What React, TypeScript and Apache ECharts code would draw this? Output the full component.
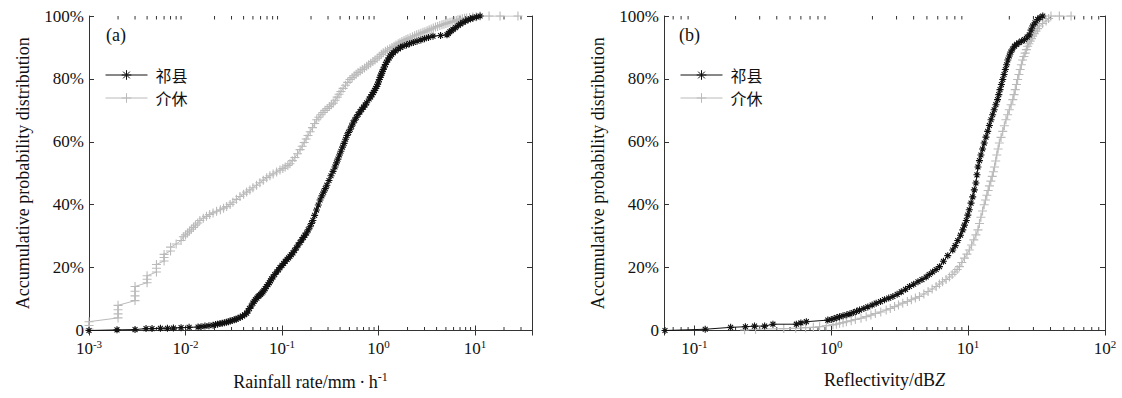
import React, { useEffect, useRef } from 'react';
import * as echarts from 'echarts';

// ---------------- data ----------------
const SERIES_NAMES = ['祁县', '介休'];
const Y_TICKS = [0, 20, 40, 60, 80, 100];

// (a) rainfall rate (mm/h) vs accumulative probability (%)
const rainQixian: [number, number][] = [
  [0.001, 0], [0.00195, 0.2], [0.003, 0.3], [0.0039, 0.6], [0.0045, 0.6], [0.0055, 0.7],
  [0.0065, 0.7], [0.0075, 0.8], [0.009, 0.9], [0.0109, 1.0], [0.0135, 1.1], [0.0145, 1.2],
  [0.0159, 1.4], [0.0175, 1.5], [0.0193, 1.7], [0.0205, 1.9], [0.0215, 2.0], [0.0228, 2.2],
  [0.024, 2.3], [0.0253, 2.5], [0.0265, 2.6], [0.0278, 2.8], [0.029, 3.0], [0.0305, 3.2],
  [0.032, 3.4], [0.0335, 3.6], [0.035, 3.9], [0.037, 4.2], [0.039, 4.6], [0.041, 5.0],
  [0.043, 5.5], [0.0445, 6.2], [0.046, 7], [0.048, 7.8], [0.05, 8.7], [0.0515, 9.3],
  [0.053, 9.8], [0.055, 10.3], [0.0565, 10.8], [0.058, 11.1], [0.06, 11.5], [0.0618, 11.9],
  [0.0635, 12.3], [0.065, 12.8], [0.067, 13.3], [0.069, 14], [0.0716, 14.6], [0.074, 15.2],
  [0.076, 15.8], [0.078, 16.4], [0.0807, 17.0], [0.084, 17.8], [0.088, 18.6], [0.092, 19.3],
  [0.0953, 20], [0.1, 20.7], [0.104, 21.3], [0.108, 22], [0.113, 22.6], [0.117, 23.1],
  [0.121, 23.6], [0.125, 24.1], [0.13, 24.7], [0.135, 25.5], [0.141, 26.3], [0.147, 27.2],
  [0.154, 28], [0.16, 28.8], [0.167, 29.6], [0.173, 30.3], [0.18, 31], [0.187, 32],
  [0.195, 33], [0.202, 34], [0.209, 35], [0.218, 36.6], [0.228, 38.3], [0.238, 39.9],
  [0.248, 41.5], [0.259, 42.8], [0.27, 44], [0.281, 45.1], [0.292, 46.2], [0.307, 47.7],
  [0.322, 49.2], [0.338, 50.6], [0.354, 52], [0.367, 53.3], [0.38, 54.5], [0.394, 55.8],
  [0.408, 57], [0.424, 58.3], [0.44, 59.5], [0.456, 60.8], [0.472, 62], [0.49, 63],
  [0.51, 64], [0.527, 65], [0.545, 66], [0.567, 66.9], [0.59, 67.8], [0.615, 68.7],
  [0.643, 69.5], [0.67, 70.3], [0.7, 71], [0.727, 71.7], [0.755, 72.4], [0.8, 73.6],
  [0.83, 74.3], [0.857, 75], [0.885, 75.7], [0.91, 76.3], [0.935, 77], [0.958, 77.6],
  [0.98, 78.3], [1.0, 79], [1.02, 79.8], [1.04, 80.5], [1.06, 81.2], [1.08, 81.8],
  [1.1, 82.4], [1.12, 83], [1.15, 83.8], [1.18, 84.6], [1.21, 85.3], [1.25, 86],
  [1.29, 86.7], [1.33, 87.3], [1.37, 87.8], [1.42, 88.3], [1.5, 88.9], [1.6, 89.5],
  [1.69, 90], [1.79, 90.4], [1.95, 90.8], [2.1, 91.2], [2.3, 91.6], [2.51, 92],
  [2.75, 92.4], [3.0, 92.8], [3.3, 93.2], [3.67, 93.6], [4.4, 93.8], [5.13, 94],
  [5.3, 94.5], [5.5, 95], [5.7, 95.3], [5.92, 95.7], [6.3, 96.3], [6.7, 97],
  [7.1, 97.5], [7.51, 98], [8.0, 98.4], [8.5, 98.8], [9.0, 99.1], [9.53, 99.4],
  [10.4, 99.7], [11.3, 100],
];
const rainJiexiu: [number, number][] = [
  [0.001, 0.5], [0.001, 1.6], [0.001, 2.8], [0.002, 4.0], [0.002, 5.3], [0.002, 6.6],
  [0.002, 8.0], [0.003, 9.5], [0.003, 11], [0.003, 12.5], [0.003, 14], [0.004, 15.2],
  [0.004, 16.3], [0.004, 17.4], [0.005, 18.6], [0.005, 19.8], [0.005, 21], [0.006, 22.1],
  [0.006, 23.2], [0.006, 24.2], [0.007, 25.3], [0.007, 26.5], [0.008, 27.5], [0.009, 28.6],
  [0.0095, 29.8], [0.01, 30.4], [0.0105, 31], [0.011, 31.6], [0.0115, 32.2], [0.0121, 32.8],
  [0.0127, 33.5], [0.0134, 34.2], [0.0141, 35], [0.0153, 35.7], [0.0165, 36.3], [0.0178, 36.9],
  [0.0193, 37.4], [0.021, 37.9], [0.023, 38.4], [0.0248, 38.9], [0.0267, 39.4], [0.029, 40.1],
  [0.031, 40.8], [0.0337, 41.7], [0.0367, 42.6], [0.04, 43.3], [0.043, 44], [0.0465, 44.7],
  [0.05, 45.4], [0.0545, 46.2], [0.059, 47], [0.064, 47.8], [0.0694, 48.6], [0.075, 49.2],
  [0.081, 49.8], [0.088, 50.4], [0.0953, 51], [0.102, 51.5], [0.108, 52], [0.115, 52.5],
  [0.121, 53], [0.128, 54], [0.136, 55], [0.145, 56.2], [0.154, 57.5], [0.162, 58.6],
  [0.17, 59.8], [0.178, 60.9], [0.186, 62], [0.196, 63.2], [0.207, 64.5], [0.218, 65.8],
  [0.229, 67], [0.241, 67.8], [0.253, 68.6], [0.266, 69.3], [0.279, 70], [0.294, 70.6],
  [0.31, 71.2], [0.325, 71.8], [0.34, 72.3], [0.356, 73.2], [0.373, 74.2], [0.39, 75.1],
  [0.408, 76], [0.43, 77], [0.455, 78], [0.48, 78.9], [0.507, 79.8], [0.533, 80.4],
  [0.56, 81], [0.587, 81.5], [0.614, 82], [0.647, 82.5], [0.68, 83], [0.717, 83.5],
  [0.755, 84], [0.79, 84.5], [0.83, 85], [0.875, 85.5], [0.92, 86], [0.97, 86.6],
  [1.02, 87.2], [1.07, 87.8], [1.12, 88.3], [1.18, 88.8], [1.24, 89.2], [1.31, 89.6],
  [1.38, 90], [1.45, 90.4], [1.52, 90.8], [1.6, 91.2], [1.67, 91.5], [1.75, 91.9],
  [1.84, 92.2], [1.93, 92.5], [2.02, 92.8], [2.13, 93.1], [2.25, 93.4], [2.37, 93.7],
  [2.49, 94], [2.62, 94.3], [2.75, 94.5], [2.89, 94.8], [3.03, 95], [3.19, 95.3],
  [3.35, 95.6], [3.52, 95.9], [3.7, 96.2], [3.9, 96.5], [4.1, 96.7], [4.32, 97],
  [4.55, 97.2], [4.77, 97.4], [5.0, 97.6], [5.25, 97.8], [5.51, 98], [5.8, 98.2],
  [6.1, 98.4], [6.4, 98.6], [6.67, 98.8], [7.0, 99], [7.4, 99.1], [7.8, 99.3],
  [8.2, 99.4], [8.8, 99.5], [9.5, 99.7], [10.3, 99.8], [11.3, 100], [14, 100],
  [18.2, 100], [27.9, 100],
];

// (b) reflectivity (dBZ) vs accumulative probability (%)
const reflQixian: [number, number][] = [
  [0.061, 0], [0.12, 0.4], [0.184, 1.0], [0.236, 1.2], [0.275, 1.4], [0.326, 1.4],
  [0.375, 2.0], [0.556, 2.0], [0.6, 2.4], [0.658, 2.8], [0.944, 3.3], [1.0, 3.5],
  [1.05, 3.8], [1.1, 4.1], [1.15, 4.4], [1.22, 4.7], [1.3, 5.0], [1.37, 5.3],
  [1.45, 5.7], [1.53, 6.1], [1.61, 6.5], [1.73, 7.0], [1.85, 7.5], [1.99, 8.1],
  [2.13, 8.7], [2.29, 9.2], [2.45, 9.8], [2.63, 10.3], [2.82, 10.8], [3.03, 11.5],
  [3.25, 12.3], [3.49, 13.1], [3.73, 14], [4.0, 14.7], [4.3, 15.5], [4.6, 16.2],
  [4.94, 17], [5.2, 17.8], [5.5, 18.6], [5.84, 19.4], [6.18, 20.3], [6.6, 22],
  [7.1, 23.8], [7.72, 25.6], [8.05, 27], [8.4, 28.6], [8.8, 30.3], [9.14, 32],
  [9.4, 33.5], [9.7, 35], [9.95, 36.7], [10.2, 38.4], [10.5, 40.5], [10.8, 42.5],
  [11.1, 44.7], [11.4, 46.9], [11.6, 49.5], [11.8, 52], [12.1, 54], [12.4, 55.8],
  [12.75, 57.7], [13.1, 59.6], [13.5, 61.5], [13.9, 63.3], [14.3, 65.2], [14.7, 67],
  [15.1, 68.6], [15.5, 70.2], [15.95, 71.8], [16.4, 73.4], [16.75, 75], [17.1, 76.6],
  [17.5, 78.2], [17.9, 79.8], [18.3, 81.4], [18.7, 83], [19.1, 84.5], [19.5, 86],
  [20.0, 87.3], [20.5, 88.5], [21.1, 89.5], [21.8, 90.4], [22.6, 91], [23.5, 91.5],
  [24.6, 92], [25.8, 92.5], [27.0, 93.3], [28.0, 94], [28.8, 95.5], [29.6, 96.8],
  [30.8, 97.8], [32.2, 98.9], [33.5, 99.5], [35.1, 100],
];
const reflJiexiu: [number, number][] = [
  [0.233, 0.2], [0.28, 0.4], [0.45, 0.6], [0.55, 0.7], [0.65, 0.9], [0.74, 1.0],
  [0.822, 1.2], [0.92, 1.5], [1.03, 1.8], [1.09, 2.0], [1.15, 2.3], [1.22, 2.5],
  [1.29, 2.8], [1.4, 3.1], [1.5, 3.5], [1.65, 3.9], [1.8, 4.4], [1.95, 4.9],
  [2.1, 5.4], [2.3, 5.9], [2.52, 6.5], [2.7, 7.0], [2.9, 7.6], [3.1, 8.1],
  [3.33, 8.7], [3.6, 9.2], [3.85, 9.8], [4.12, 10.3], [4.41, 10.8], [4.75, 11.6],
  [5.1, 12.4], [5.46, 13.2], [5.84, 14], [6.17, 14.8], [6.5, 15.5], [6.9, 16.2],
  [7.3, 17], [7.65, 17.8], [8.0, 18.6], [8.32, 19.4], [8.64, 20.3], [9.0, 21.6],
  [9.4, 23], [9.8, 24.3], [10.2, 25.6], [10.6, 27.2], [11.0, 28.8], [11.4, 30.4],
  [11.8, 32], [12.1, 34], [12.4, 36], [12.75, 38], [13.1, 40], [13.4, 41.5],
  [13.7, 43], [14.0, 44.5], [14.3, 46], [14.65, 47.5], [15.0, 49], [15.3, 50.5],
  [15.6, 52], [15.9, 53.9], [16.2, 55.8], [16.55, 57.7], [16.9, 59.6], [17.4, 61.4],
  [17.9, 63.3], [18.4, 65.1], [18.9, 67], [19.45, 68.6], [20.0, 70.2], [20.6, 71.8],
  [21.2, 73.4], [21.65, 75], [22.1, 76.6], [22.55, 78.2], [23.0, 79.8], [23.5, 81.4],
  [24.0, 83], [24.5, 84.5], [25.0, 86], [25.55, 87.1], [26.1, 88.2], [26.65, 89.3],
  [27.2, 90.4], [27.8, 91.2], [28.4, 92], [29.0, 92.8], [29.6, 93.6], [30.4, 94.4],
  [31.3, 95.2], [32.2, 96], [33.1, 96.8], [35.0, 97.6], [37.1, 98.4], [38.7, 99.2],
  [40.3, 100], [46.4, 100], [56.5, 100],
];

const X_RANGE_A: [number, number] = [0.001, 39];
const X_RANGE_B: [number, number] = [0.06, 100];
const DECADES_A = [-3, -2, -1, 0, 1];
const DECADES_B = [-2, -1, 0, 1];

// ---------------- styling ----------------
const SERIF = '"Liberation Serif", "Times New Roman", serif';
const CJK = '"Noto Sans CJK SC", sans-serif';
const AXIS_COLOR = '#333';
const TEXT_COLOR = '#111';
const BLACK = '#111';
const GRAY = '#bababa';
const STAR = 'path://M0,4L8,4M4,0L4,8M1.2,1.2L6.8,6.8M6.8,1.2L1.2,6.8';
const PLUS = 'path://M0,5L10,5M5,0L5,10';

function minorTicks(decades: number[], range: [number, number]): number[][] {
  const out: number[][] = [];
  decades.forEach((d) => {
    for (let k = 2; k <= 9; k++) {
      const v = k * Math.pow(10, d);
      if (v > range[0] && v < range[1]) out.push([v, 0]);
    }
  });
  return out;
}

const logLabel = (v: number) => {
  const n = Math.round(Math.log10(v));
  if (Math.abs(v - Math.pow(10, n)) / v > 1e-6) return '';
  return '{b|10}{s|' + n + '}';
};

const tickRich = {
  b: { fontSize: 17, fontFamily: SERIF, color: TEXT_COLOR, lineHeight: 20 },
  s: { fontSize: 11, fontFamily: SERIF, color: TEXT_COLOR, verticalAlign: 'top' },
};

function xAxes(gridIndex: number, range: [number, number], name: string, nameRich: any) {
  const common = {
    gridIndex,
    type: 'log',
    logBase: 10,
    min: range[0],
    max: range[1],
    splitLine: { show: false },
    axisLine: { show: true, lineStyle: { color: AXIS_COLOR, width: 1 } },
    axisTick: { show: true, inside: true, length: 5, lineStyle: { color: AXIS_COLOR } },
  };
  return [
    {
      ...common,
      position: 'bottom',
      axisLabel: { formatter: logLabel, rich: tickRich, margin: 8 },
      name,
      nameLocation: 'middle',
      nameGap: 40,
      nameTextStyle: { rich: nameRich },
    },
    { ...common, position: 'top', axisLabel: { show: false } },
  ];
}

function yAxes(gridIndex: number) {
  const common = {
    gridIndex,
    type: 'value',
    min: 0,
    max: 100,
    interval: 20,
    splitLine: { show: false },
    axisLine: { show: true, lineStyle: { color: AXIS_COLOR, width: 1 } },
    axisTick: { show: true, inside: true, length: 5, lineStyle: { color: AXIS_COLOR } },
  };
  return [
    {
      ...common,
      position: 'left',
      axisLabel: {
        formatter: (v: number) => (Y_TICKS.includes(v) ? (v === 0 ? '0' : v + '%') : ''),
        fontSize: 17,
        fontFamily: SERIF,
        color: TEXT_COLOR,
        margin: 5,
      },
      name: 'Accumulative probability distribution',
      nameLocation: 'middle',
      nameGap: 57,
      nameTextStyle: { fontSize: 18, fontFamily: SERIF, color: TEXT_COLOR },
    },
    { ...common, position: 'right', axisLabel: { show: false } },
  ];
}

function curve(name: string, data: [number, number][], axisIdx: number, black: boolean) {
  const c = black ? BLACK : GRAY;
  return {
    type: 'line',
    name,
    xAxisIndex: axisIdx,
    yAxisIndex: axisIdx,
    data,
    symbol: black ? STAR : PLUS,
    symbolSize: black ? 7 : 9,
    showAllSymbol: true,
    lineStyle: { color: c, width: 1 },
    itemStyle: { color: 'rgba(0,0,0,0)', borderColor: c, borderWidth: 1.1 },
    z: black ? 4 : 3,
    emphasis: { disabled: true },
    silent: true,
  };
}

function tickSeries(name: string, data: number[][], axisIdx: number) {
  return {
    type: 'custom',
    name,
    xAxisIndex: axisIdx,
    yAxisIndex: axisIdx,
    data,
    silent: true,
    clip: false,
    z: 1,
    renderItem: (_params: any, api: any) => {
      const v = api.value(0);
      const b = api.coord([v, 0]);
      const t = api.coord([v, 100]);
      const st = { stroke: AXIS_COLOR, lineWidth: 1 };
      return {
        type: 'group',
        children: [
          { type: 'line', shape: { x1: b[0], y1: b[1], x2: b[0], y2: b[1] - 3.5 }, style: st },
          { type: 'line', shape: { x1: t[0], y1: t[1], x2: t[0], y2: t[1] + 3.5 }, style: st },
        ],
      };
    },
  };
}

function legend(left: number) {
  return {
    left,
    top: 67,
    orient: 'vertical',
    data: SERIES_NAMES,
    itemWidth: 42,
    itemHeight: 12,
    itemGap: 7,
    padding: 0,
    selectedMode: false,
    lineStyle: { width: 1 },
    itemStyle: { borderWidth: 1 },
    textStyle: { fontSize: 16, fontFamily: CJK, color: TEXT_COLOR, padding: [0, 0, 0, 3], lineHeight: 16 },
  };
}

export default function App() {
  const ref = useRef<HTMLDivElement>(null);
  useEffect(() => {
    if (!ref.current) return;
    const chart = echarts.init(ref.current, undefined, { renderer: 'svg' });
    const nameRichA = {
      n: { fontSize: 18, fontFamily: SERIF, color: TEXT_COLOR, lineHeight: 22 },
      s: { fontSize: 12, fontFamily: SERIF, color: TEXT_COLOR, verticalAlign: 'top' },
    };
    const nameRichB = {
      n: { fontSize: 18, fontFamily: SERIF, color: TEXT_COLOR },
      i: { fontSize: 18, fontFamily: SERIF, color: TEXT_COLOR, fontStyle: 'italic' },
    };
    const option: any = {
      animation: false,
      backgroundColor: '#fff',
      grid: [
        { left: 89, top: 16, width: 443, height: 314.5 },
        { left: 664, top: 16, width: 441, height: 314.5 },
      ],
      xAxis: [
        ...xAxes(0, X_RANGE_A, '{n|Rainfall rate/mm\u2009\u00b7\u2009h}{s|-1}', nameRichA),
        ...xAxes(1, X_RANGE_B, '{n|Reflectivity/dB}{i|Z}', nameRichB),
      ],
      yAxis: [...yAxes(0), ...yAxes(1)],
      legend: [legend(105), legend(680)],
      graphic: [
        { type: 'text', left: 106, top: 26, style: { text: '(a)', font: '18px ' + SERIF, fill: TEXT_COLOR } },
        { type: 'text', left: 679, top: 26, style: { text: '(b)', font: '18px ' + SERIF, fill: TEXT_COLOR } },
      ],
      series: [
        tickSeries('minorA', minorTicks(DECADES_A, X_RANGE_A), 0),
        tickSeries('minorB', minorTicks(DECADES_B, X_RANGE_B), 2),
        curve(SERIES_NAMES[1], rainJiexiu, 0, false),
        curve(SERIES_NAMES[0], rainQixian, 0, true),
        curve(SERIES_NAMES[1], reflJiexiu, 2, false),
        curve(SERIES_NAMES[0], reflQixian, 2, true),
      ],
    };
    chart.setOption(option);
    return () => chart.dispose();
  }, []);
  return (
    <div
      ref={ref}
      style={{ position: 'fixed', left: 0, top: 0, width: 1122, height: 398, background: '#fff' }}
    />
  );
}
